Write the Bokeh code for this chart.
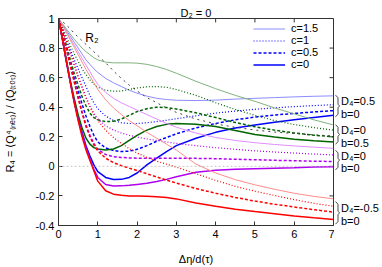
from bokeh.plotting import figure
from bokeh.models import Range1d, FixedTicker, Legend, LegendItem, Span, Title, Label
from bokeh.layouts import row
from bokeh.core.properties import value
from bokeh.embed import file_html
from bokeh.resources import INLINE

# ---------------- data ----------------
X = [0, 0.1, 0.2, 0.3, 0.4, 0.5, 0.6, 0.7, 0.8, 0.9, 1.0, 1.2, 1.4, 1.6, 1.8,
     2.0, 2.25, 2.5, 2.75, 3.0, 3.5, 4.0, 4.5, 5.0, 5.5, 6.0, 6.5, 7.0]

# D4=0.5, b=0 (blue)
blue_c15 = [1, 0.96, 0.92, 0.88, 0.84, 0.80, 0.76, 0.72, 0.69, 0.66, 0.635, 0.595, 0.565, 0.54, 0.515,
            0.495, 0.475, 0.46, 0.452, 0.447, 0.445, 0.448, 0.455, 0.46, 0.465, 0.47, 0.474, 0.477]
blue_c10 = [1, 0.93, 0.86, 0.79, 0.72, 0.66, 0.60, 0.54, 0.48, 0.43, 0.39, 0.34, 0.31, 0.295, 0.29,
            0.29, 0.295, 0.303, 0.312, 0.322, 0.342, 0.36, 0.374, 0.386, 0.396, 0.404, 0.411, 0.417]
blue_c05 = [1, 0.90, 0.80, 0.70, 0.60, 0.51, 0.42, 0.34, 0.27, 0.21, 0.165, 0.125, 0.107, 0.10, 0.103,
            0.115, 0.14, 0.17, 0.195, 0.22, 0.26, 0.29, 0.315, 0.333, 0.347, 0.358, 0.368, 0.377]
blue_c00 = [1, 0.86, 0.71, 0.57, 0.44, 0.33, 0.23, 0.14, 0.07, 0.01, -0.035, -0.075, -0.089, -0.088, -0.075,
            -0.045, 0.01, 0.055, 0.1, 0.14, 0.19, 0.23, 0.26, 0.28, 0.298, 0.315, 0.33, 0.345]

# D4=0, b=0.5 (green)
green_c15 = [1, 0.965, 0.93, 0.895, 0.86, 0.83, 0.80, 0.775, 0.755, 0.735, 0.72, 0.705, 0.70, 0.70, 0.70,
             0.698, 0.69, 0.675, 0.655, 0.63, 0.575, 0.525, 0.48, 0.44, 0.395, 0.355, 0.315, 0.28]
green_c10 = [1, 0.94, 0.88, 0.82, 0.76, 0.71, 0.66, 0.62, 0.585, 0.555, 0.535, 0.515, 0.508, 0.51, 0.52,
             0.53, 0.538, 0.54, 0.535, 0.52, 0.48, 0.43, 0.385, 0.345, 0.31, 0.283, 0.262, 0.245]
green_c05 = [1, 0.91, 0.82, 0.72, 0.63, 0.55, 0.47, 0.41, 0.36, 0.33, 0.315, 0.302, 0.305, 0.32, 0.345,
             0.37, 0.39, 0.40, 0.398, 0.388, 0.362, 0.33, 0.297, 0.268, 0.245, 0.226, 0.211, 0.20]
green_c00 = [1, 0.86, 0.72, 0.58, 0.46, 0.35, 0.26, 0.19, 0.15, 0.127, 0.117, 0.111, 0.117, 0.14, 0.175,
             0.21, 0.245, 0.27, 0.284, 0.29, 0.285, 0.27, 0.243, 0.215, 0.198, 0.184, 0.174, 0.165]

# D4=0, b=0 (violet)
viol_c15 = [1, 0.955, 0.91, 0.865, 0.82, 0.775, 0.73, 0.685, 0.64, 0.595, 0.555, 0.50, 0.46, 0.43, 0.405,
            0.38, 0.35, 0.32, 0.29, 0.265, 0.225, 0.195, 0.175, 0.16, 0.148, 0.138, 0.13, 0.122]
viol_c10 = [1, 0.925, 0.85, 0.77, 0.69, 0.61, 0.54, 0.47, 0.41, 0.36, 0.32, 0.275, 0.245, 0.225, 0.21,
            0.198, 0.185, 0.175, 0.165, 0.155, 0.14, 0.126, 0.115, 0.105, 0.097, 0.09, 0.083, 0.077]
viol_c05 = [1, 0.9, 0.8, 0.69, 0.58, 0.47, 0.37, 0.28, 0.21, 0.155, 0.115, 0.08, 0.066, 0.06, 0.057,
            0.055, 0.055, 0.055, 0.055, 0.055, 0.054, 0.052, 0.048, 0.045, 0.041, 0.038, 0.035, 0.033]
viol_c00 = [1, 0.86, 0.71, 0.57, 0.44, 0.32, 0.22, 0.13, 0.05, -0.02, -0.075, -0.123, -0.133, -0.132, -0.128,
            -0.122, -0.115, -0.103, -0.088, -0.07, -0.04, -0.026, -0.02, -0.016, -0.012, -0.009, -0.005, -0.002]

# D4=-0.5, b=0 (red)
red_c15 = [1, 0.955, 0.905, 0.855, 0.805, 0.755, 0.705, 0.655, 0.61, 0.565, 0.52, 0.45, 0.395, 0.35, 0.31,
           0.275, 0.23, 0.19, 0.15, 0.11, 0.015, -0.045, -0.09, -0.125, -0.155, -0.182, -0.203, -0.22]
red_c10 = [1, 0.925, 0.845, 0.765, 0.685, 0.605, 0.53, 0.46, 0.40, 0.35, 0.31, 0.245, 0.195, 0.155, 0.12,
           0.09, 0.06, 0.035, 0.015, -0.005, -0.05, -0.095, -0.135, -0.168, -0.197, -0.225, -0.25, -0.27]
red_c05 = [1, 0.9, 0.79, 0.68, 0.57, 0.46, 0.36, 0.27, 0.2, 0.145, 0.105, 0.055, 0.025, 0.005, -0.012,
           -0.028, -0.05, -0.072, -0.093, -0.113, -0.15, -0.182, -0.21, -0.235, -0.256, -0.275, -0.293, -0.31]
red_c00 = [1, 0.86, 0.71, 0.57, 0.43, 0.31, 0.2, 0.11, 0.04, -0.03, -0.1, -0.165, -0.188, -0.196, -0.2,
           -0.2, -0.203, -0.206, -0.211, -0.22, -0.248, -0.27, -0.29, -0.306, -0.32, -0.335, -0.348, -0.36]

# R2 reference curve
r2 = [1, 0.98, 0.955, 0.93, 0.9, 0.875, 0.85, 0.825, 0.80, 0.775, 0.75, 0.70, 0.645, 0.595, 0.55,
      0.51, 0.465, 0.43, 0.395, 0.365, 0.32, 0.287, 0.264, 0.246, 0.232, 0.222, 0.213, 0.205]

c_labels = ["c=1.5", "c=1", "c=0.5", "c=0"]
x_ticks = [0, 1, 2, 3, 4, 5, 6, 7]
x_tick_labels = ["0", "1", "2", "3", "4", "5", "6", "7"]
y_ticks = [-0.4, -0.2, 0, 0.2, 0.4, 0.6, 0.8, 1]
y_tick_labels = ["-0.4", "-0.2", "0", "0.2", "0.4", "0.6", "0.8", "1"]

# group annotations at right
grp_text1 = ["D₄=0.5", "D₄=0", "D₄=0", "D₄=-0.5"]
grp_text2 = ["b=0", "b=0.5", "b=0", "b=0"]
grp_y1 = [0.445, 0.245, 0.068, -0.282]
grp_y2 = [0.357, 0.155, -0.01, -0.372]
brace_top = [0.482, 0.282, 0.109, -0.238]
brace_bot = [0.335, 0.149, -0.024, -0.391]

# ---------------- layout constants ----------------
FONT = "Liberation Sans"
W_MAIN, W_SIDE, H = 334, 48, 267
B_LEFT, B_RIGHT, B_TOP, B_BOTTOM = 57, 1, 18, 38
XR = (0, 7)
YR = (-0.4, 1)
TICK_PX = 4

p = figure(width=W_MAIN, height=H, output_backend="svg", toolbar_location=None,
           x_range=Range1d(*XR), y_range=Range1d(*YR),
           min_border_left=B_LEFT, min_border_right=B_RIGHT,
           min_border_top=B_TOP, min_border_bottom=B_BOTTOM)
p.xgrid.visible = False
p.ygrid.visible = False
p.outline_line_color = "#333333"
p.outline_line_width = 1

p.add_layout(Title(text="D₂ = 0", align="center", text_font=FONT, text_font_size="11px",
                   text_font_style="normal", text_color="black", standoff=0), "above")

p.add_layout(Span(location=0, dimension="width", line_color="#b0b0b0",
                  line_width=0.7, line_dash="2 2"))

for ax, ticks, labels in ((p.xaxis[0], x_ticks, x_tick_labels), (p.yaxis[0], y_ticks, y_tick_labels)):
    ax.ticker = FixedTicker(ticks=ticks)
    ax.major_label_overrides = {t: s for t, s in zip(ticks, labels)}
    ax.major_tick_in = TICK_PX
    ax.major_tick_out = 0
    ax.minor_tick_line_color = None
    ax.axis_line_color = "#333333"
    ax.major_tick_line_color = "#333333"
    ax.major_label_text_font = FONT
    ax.major_label_text_font_size = "11px"
    ax.major_label_text_color = "black"
    ax.major_label_standoff = 4
    ax.axis_label_text_font = FONT
    ax.axis_label_text_font_size = "11px"
    ax.axis_label_text_font_style = "normal"
    ax.axis_label_text_color = "black"
p.xaxis[0].axis_label = "Δη/d(τ)"
p.yaxis[0].axis_label = "R₄ = ⟨Q⁴₍ₙₑₜ₎⟩ / ⟨Q₍ₜₒₜ₎⟩"
p.xaxis[0].axis_label_standoff = 12
p.yaxis[0].axis_label_standoff = 17

# mirror ticks on the top and right edges of the frame
frame_w = W_MAIN - B_LEFT - B_RIGHT
frame_h = H - B_TOP - B_BOTTOM
dy = TICK_PX * (YR[1] - YR[0]) / frame_h
dx = TICK_PX * (XR[1] - XR[0]) / frame_w
p.segment(x0=x_ticks, y0=[YR[1]] * len(x_ticks), x1=x_ticks, y1=[YR[1] - dy] * len(x_ticks),
          line_color="#333333", line_width=1)
p.segment(x0=[XR[1]] * len(y_ticks), y0=y_ticks, x1=[XR[1] - dx] * len(y_ticks), y1=y_ticks,
          line_color="#333333", line_width=1)

# ---------------- curves ----------------
styles = [  # (width, dash, light)
    (1.0, "solid", True),
    (1.2, "1 2", False),
    (1.5, "3 2", False),
    (1.5, "solid", False),
]
groups = [
    ("blue", [blue_c15, blue_c10, blue_c05, blue_c00], "#0000ff", "#8c8cff"),
    ("green", [green_c15, green_c10, green_c05, green_c00], "#006400", "#7fb27f"),
    ("viol", [viol_c15, viol_c10, viol_c05, viol_c00], "#b000f0", "#e08cff"),
    ("red", [red_c15, red_c10, red_c05, red_c00], "#ff0000", "#ff8c8c"),
]
legend_renderers = []
for name, series, col, light in groups:
    for (w, dash, is_light), ys in zip(styles, series):
        r = p.line(X, ys, line_color=light if is_light else col, line_width=w, line_dash=dash)
        if name == "blue":
            legend_renderers.append(r)

p.line(X, r2, line_color="#444444", line_width=1.0, line_dash="2 4")
p.add_layout(Label(x=0.68, y=0.865, text="R₂", text_font=FONT, text_font_size="12px",
                   text_color="black", text_baseline="middle", text_align="left"))

legend = Legend(items=[LegendItem(label=l, renderers=[r]) for l, r in zip(c_labels, legend_renderers)],
                location=(193, 153), background_fill_alpha=0, border_line_alpha=0,
                label_text_font=FONT, label_text_font_size="11px", label_text_color="black",
                glyph_width=32, glyph_height=11, label_height=11, spacing=-1, padding=2, margin=0,
                label_standoff=6)
p.add_layout(legend)

# ---------------- right-hand side panel: group labels and braces ----------------
q = figure(width=W_SIDE, height=H, output_backend="svg", toolbar_location=None,
           x_range=Range1d(0, W_SIDE), y_range=p.y_range,
           min_border_left=0, min_border_right=0, min_border_top=B_TOP, min_border_bottom=B_BOTTOM,
           x_axis_location=None, y_axis_location=None)
q.xgrid.visible = False
q.ygrid.visible = False
q.outline_line_color = None

TX = 6.5
q.text(x=[TX] * len(grp_text1), y=grp_y1, text=grp_text1, text_font=value(FONT),
       text_font_size=value("11px"), text_baseline="middle", text_align="left", text_color="black")
q.text(x=[TX] * len(grp_text2), y=grp_y2, text=grp_text2, text_font=value(FONT),
       text_font_size=value("11px"), text_baseline="middle", text_align="left", text_color="black")

bx_end, bx_line, bx_tip = 1.0, 3.5, 5.0
bxs, bys = [], []
for bt, bb in zip(brace_top, brace_bot):
    mid = 0.5 * (bt + bb)
    d = 0.018
    bxs.append([bx_end, bx_line, bx_line, bx_tip, bx_line, bx_line, bx_end])
    bys.append([bt, bt - d, mid + 0.012, mid, mid - 0.012, bb + d, bb])
q.multi_line(xs=bxs, ys=bys, line_color="#333333", line_width=0.9)

layout = row(p, q)
open("out.html", "w").write(file_html(layout, INLINE))
